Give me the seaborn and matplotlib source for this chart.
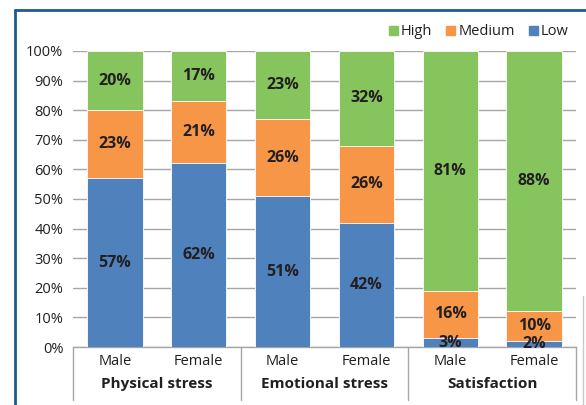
import numpy as np
import pandas as pd
import matplotlib
matplotlib.use("Agg")
import matplotlib.pyplot as plt
from matplotlib.lines import Line2D
from matplotlib.patches import Patch
import matplotlib.transforms as mtransforms
import seaborn as sns

groups   = ["Physical stress", "Emotional stress", "Satisfaction"]
genders  = ["Male", "Female"]
low      = [57, 62, 51, 42, 3, 2]
medium   = [23, 21, 26, 26, 16, 10]
high     = [20, 17, 23, 32, 81, 88]
yticks   = [0, 10, 20, 30, 40, 50, 60, 70, 80, 90, 100]

GREEN  = "#86c45e"
ORANGE = "#f79646"
BLUE   = "#4f81bd"
TXT    = "#231f20"
FRAME  = "#1f5a93"

sns.set_style("white")
plt.rcParams["font.family"] = ["Open Sans", "DejaVu Sans"]

bars = [f"{g}|{s}" for g in groups for s in genders]
df = pd.DataFrame({"bar": bars, "Low": low, "Medium": medium, "High": high})
df["top_med"] = df["Low"] + df["Medium"]
df["top_high"] = df["top_med"] + df["High"]

fig = plt.figure(figsize=(5.86, 4.05), dpi=100)
ax = fig.add_axes([0.1246, 0.1432, 0.8584, 0.7309])

# stacked bars drawn as overlapping layers
for col, color in [("top_high", GREEN), ("top_med", ORANGE), ("Low", BLUE)]:
    sns.barplot(data=df, x="bar", y=col, color=color, width=0.66,
                edgecolor="white", linewidth=0.6, saturation=1, ax=ax,
                zorder=3)

# segment labels
for i, row in df.iterrows():
    for bottom, val in [(0, row["Low"]), (row["Low"], row["Medium"]),
                        (row["top_med"], row["High"])]:
        ax.text(i, bottom + val / 2, f"{val}%", ha="center", va="center",
                fontsize=11.5, fontweight="bold", color=TXT, zorder=5)

ax.set_xlim(-0.5, 5.5)
ax.set_ylim(0, 100)
ax.set_yticks(yticks)
ax.set_yticklabels([f"{t}%" for t in yticks], fontsize=10.5, color=TXT)
ax.yaxis.grid(True, color="#a6a6a6", linewidth=1)
ax.set_axisbelow(True)
ax.tick_params(axis="y", length=0, pad=7)
ax.tick_params(axis="x", length=0, pad=5)
ax.set_xticks(range(len(bars)))
ax.set_xticklabels(genders * len(groups), fontsize=10.5, color=TXT)
ax.set_xlabel(""); ax.set_ylabel("")
for s in ["top", "right", "left"]:
    ax.spines[s].set_visible(False)
ax.spines["bottom"].set_color("#a6a6a6")
ax.spines["bottom"].set_linewidth(1)

# group labels and separators below the axis
trans = mtransforms.blended_transform_factory(ax.transData, ax.transAxes)
for k, g in enumerate(groups):
    ax.text(2 * k + 0.5, -0.125, g, transform=trans, ha="center", va="center",
            fontsize=11, fontweight="bold", color=TXT)
for xs in [-0.5, 1.5, 3.5, 5.5]:
    ax.add_line(Line2D([xs, xs], [0, -0.18], transform=trans, color="#a6a6a6",
                       linewidth=1, clip_on=False))

# legend
handles = [Patch(color=GREEN, label="High"), Patch(color=ORANGE, label="Medium"),
           Patch(color=BLUE, label="Low")]
fig.legend(handles=handles, loc="center right", bbox_to_anchor=(0.993, 0.921),
           ncol=3, frameon=False, fontsize=10.5, handlelength=0.6, handleheight=0.6,
           handletextpad=0.2, columnspacing=1.0, labelcolor=TXT)

# frame lines of the original figure box
fig.add_artist(Line2D([0.0256, 0.0256], [0, 0.975], color=FRAME, linewidth=2,
                      transform=fig.transFigure))
fig.add_artist(Line2D([0.0256, 1], [0.975, 0.975], color=FRAME, linewidth=2,
                      transform=fig.transFigure))
fig.add_artist(Line2D([0.995, 0.995], [0, 0.27], color="#c8c8c8", linewidth=1,
                      transform=fig.transFigure))

fig.savefig("out.png", dpi=100)
